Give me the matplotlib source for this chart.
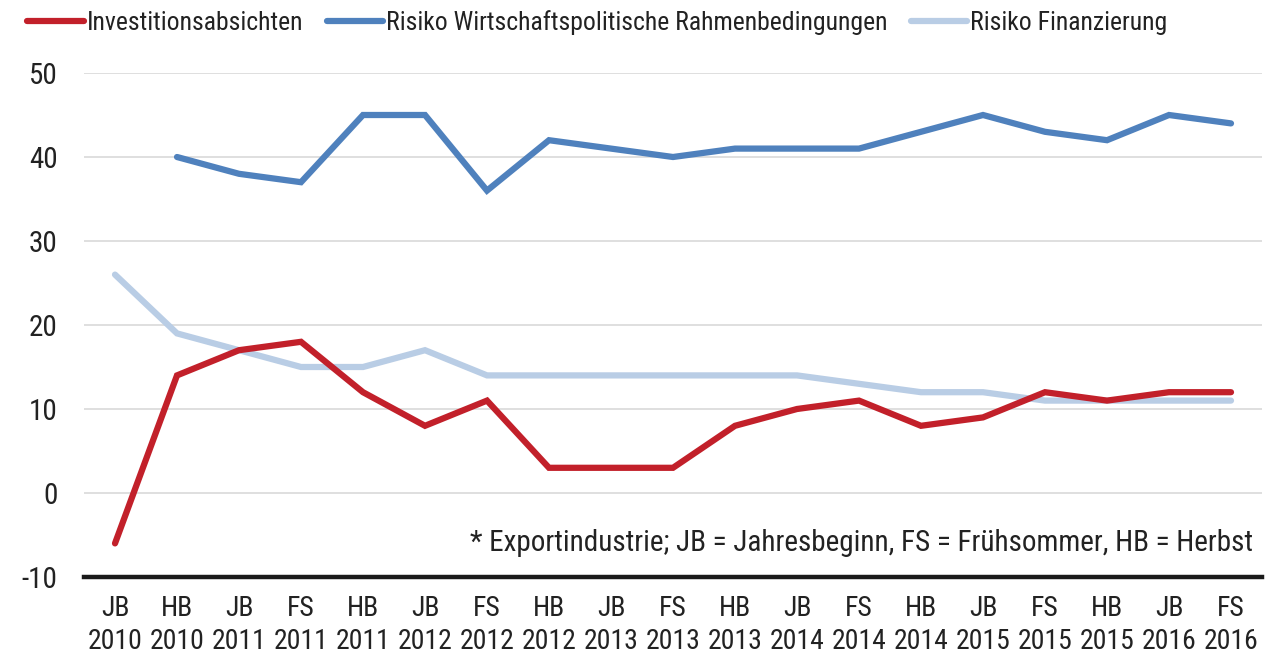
import matplotlib
matplotlib.use("Agg")
import matplotlib.pyplot as plt
import numpy as np
from matplotlib import font_manager

names = {f.name for f in font_manager.fontManager.ttflist}
fam = [f for f in ["Liberation Sans Narrow", "Roboto Condensed", "Open Sans Condensed"] if f in names] + ["DejaVu Sans"]
plt.rcParams['font.family'] = fam

periods = ["JB", "HB", "JB", "FS", "HB", "JB", "FS", "HB", "JB", "FS",
           "HB", "JB", "FS", "HB", "JB", "FS", "HB", "JB", "FS"]
years = ["2010", "2010", "2011", "2011", "2011", "2012", "2012", "2012", "2013", "2013",
         "2013", "2014", "2014", "2014", "2015", "2015", "2015", "2016", "2016"]

investitionsabsichten = [-6, 14, 17, 18, 12, 8, 11, 3, 3, 3, 8, 10, 11, 8, 9, 12, 11, 12, 12]
risiko_wirtschaft = [np.nan, 40, 38, 37, 45, 45, 36, 42, 41, 40, 41, 41, 41, 43, 45, 43, 42, 45, 44]
risiko_finanzierung = [26, 19, 17, 15, 15, 17, 14, 14, 14, 14, 14, 14, 13, 12, 12, 11, 11, 11, 11]

labels = [f"{p}\n{y}" for p, y in zip(periods, years)]
x = np.arange(len(labels))

fig = plt.figure(figsize=(12.74, 6.59), dpi=100)
ax = fig.add_axes([84/1274, 1-577/659, (1262-84)/1274, (577-73)/659])

lw = 4.5
l1, = ax.plot(x, investitionsabsichten, color="#C2202A", lw=lw, solid_capstyle='round', solid_joinstyle='miter', label="Investitionsabsichten", zorder=3)
l2, = ax.plot(x, risiko_wirtschaft, color="#4F81BD", lw=lw, solid_capstyle='round', solid_joinstyle='miter', label="Risiko Wirtschaftspolitische Rahmenbedingungen", zorder=3)
l3, = ax.plot(x, risiko_finanzierung, color="#B9CDE5", lw=lw, solid_capstyle='round', solid_joinstyle='miter', label="Risiko Finanzierung", zorder=2)

ax.set_xlim(-0.5, len(labels) - 0.5)
ax.set_ylim(-10, 50)
ax.set_yticks(range(-10, 51, 10))
ax.set_yticklabels([str(v) for v in range(-10, 51, 10)])
ax.set_xticks(x)
ax.set_xticklabels(labels, linespacing=1.28)
ax.tick_params(axis='y', length=0, pad=19, labelsize=21, colors="#222222")
ax.tick_params(axis='x', length=0, pad=13, labelsize=20, colors="#222222")
ax.grid(axis='y', color="#D9D9D9", lw=1.2, zorder=0)
for s in ["left", "right", "top"]:
    ax.spines[s].set_visible(False)
ax.spines["bottom"].set_color("#1a1a1a")
ax.spines["bottom"].set_linewidth(3.2)
ax.spines["bottom"].set_zorder(4)

ax.text(len(labels) - 0.65, -6, "* Exportindustrie; JB = Jahresbeginn, FS = Frühsommer, HB = Herbst",
        ha='right', va='center', fontsize=21, color="#222222")

fig.legend(handles=[l1, l2, l3], loc='upper left', bbox_to_anchor=(12/1274, 1.008), ncol=3,
           frameon=False, fontsize=18.5, handlelength=2.2, handletextpad=0.12, columnspacing=0.9,
           borderaxespad=0.2, labelcolor="#222222")

fig.savefig("out.png", dpi=100)
